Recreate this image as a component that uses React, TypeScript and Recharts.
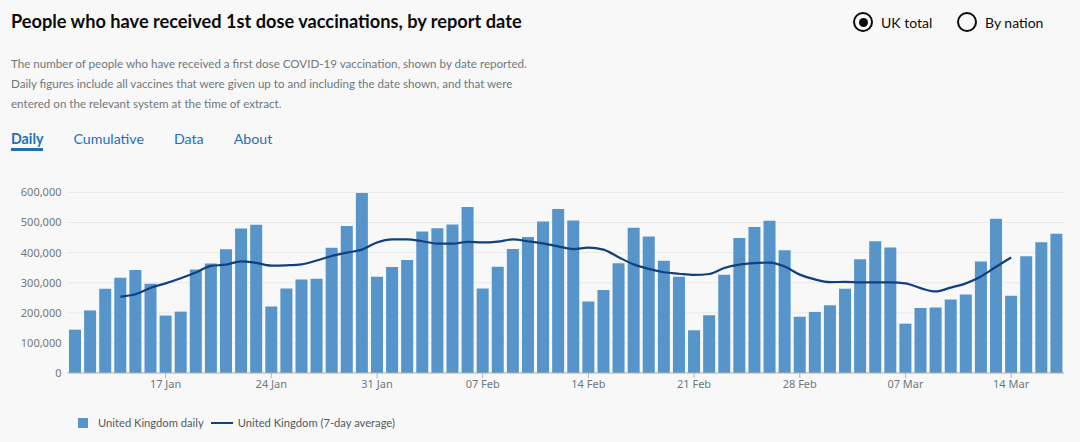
import React from "react";
import {
  ComposedChart,
  Bar,
  Line,
  XAxis,
  YAxis,
  CartesianGrid,
  ReferenceLine,
} from "recharts";

const dates = [
  "11 Jan", "12 Jan", "13 Jan", "14 Jan", "15 Jan", "16 Jan", "17 Jan", "18 Jan", "19 Jan", "20 Jan", "21 Jan",
  "22 Jan", "23 Jan", "24 Jan", "25 Jan", "26 Jan", "27 Jan", "28 Jan", "29 Jan", "30 Jan", "31 Jan",
  "01 Feb", "02 Feb", "03 Feb", "04 Feb", "05 Feb", "06 Feb", "07 Feb", "08 Feb", "09 Feb", "10 Feb",
  "11 Feb", "12 Feb", "13 Feb", "14 Feb", "15 Feb", "16 Feb", "17 Feb", "18 Feb", "19 Feb", "20 Feb",
  "21 Feb", "22 Feb", "23 Feb", "24 Feb", "25 Feb", "26 Feb", "27 Feb", "28 Feb",
  "01 Mar", "02 Mar", "03 Mar", "04 Mar", "05 Mar", "06 Mar", "07 Mar", "08 Mar", "09 Mar", "10 Mar",
  "11 Mar", "12 Mar", "13 Mar", "14 Mar", "15 Mar", "16 Mar", "17 Mar",
];

// first doses per day (thousands)
const daily = [
  144, 208, 280, 317, 342, 297, 191, 204, 344, 364, 411, 480, 493, 221, 281, 311, 313, 416, 489, 598, 320,
  352, 376, 470, 481, 494, 552, 281, 353, 412, 452, 504, 545, 507, 238, 276, 365, 483, 454, 373, 320,
  142, 192, 327, 449, 485, 506, 408, 187,
  203, 225, 280, 378, 438, 417, 164, 216, 218, 244, 261, 371, 513, 257, 388, 435, 463,
];

// 7-day average (thousands), null where not shown
const average = [
  null, null, null, 254, 262, 283, 298, 315, 334, 356, 360, 371, 366, 357, 358, 361, 374, 389, 400, 410, 434,
  444, 444, 438, 430, 430, 436, 434, 437, 444, 438, 431, 421, 412, 417, 410, 385, 361, 346, 335, 330,
  326, 329, 349, 360, 365, 367, 354, 327,
  311, 302, 303, 301, 301, 301, 298, 282, 271, 284, 298, 321, 353, 384, null, null, null,
];

const xTicks = ["17 Jan", "24 Jan", "31 Jan", "07 Feb", "14 Feb", "21 Feb", "28 Feb", "07 Mar", "14 Mar"];
const yTicks = [0, 100000, 200000, 300000, 400000, 500000, 600000];

const data = dates.map((date, i) => ({
  date,
  daily: daily[i] * 1000,
  average: average[i] == null ? null : (average[i] as number) * 1000,
}));

const BAR = "#5694ca";
const LINE = "#12407f";
const FONT = "Lato, 'Noto Sans', Arial, sans-serif";
const TICK_FONT = "'Noto Sans', Arial, sans-serif";

function Radio({ label, checked, left }: { label: string; checked: boolean; left: number }) {
  return (
    <div style={{ position: "absolute", left, top: 12, display: "flex", alignItems: "center" }}>
      <div
        style={{
          width: 16,
          height: 16,
          borderRadius: "50%",
          border: "2px solid #0b0c0c",
          display: "flex",
          alignItems: "center",
          justifyContent: "center",
        }}
      >
        {checked && <div style={{ width: 9, height: 9, borderRadius: "50%", background: "#0b0c0c" }} />}
      </div>
      <span style={{ marginLeft: 8, fontSize: 14, color: "#0b0c0c" }}>{label}</span>
    </div>
  );
}

export default function App() {
  return (
    <div
      style={{
        position: "fixed",
        left: 0,
        top: 0,
        width: 1080,
        height: 442,
        background: "#f8f8f8",
        fontFamily: FONT,
        overflow: "hidden",
      }}
    >
      <div
        style={{
          position: "absolute",
          left: 11,
          top: 10,
          fontSize: 18.2,
          fontWeight: 700,
          color: "#0b0c0c",
          whiteSpace: "nowrap",
        }}
      >
        People who have received 1st dose vaccinations, by report date
      </div>
      <Radio label="UK total" checked left={853} />
      <Radio label="By nation" checked={false} left={957} />

      <div
        style={{
          position: "absolute",
          left: 11,
          top: 54,
          fontSize: 11.6,
          lineHeight: "20px",
          color: "#6f777b",
          whiteSpace: "nowrap",
        }}
      >
        The number of people who have received a first dose COVID-19 vaccination, shown by date reported.
        <br />
        Daily figures include all vaccines that were given up to and including the date shown, and that were
        <br />
        entered on the relevant system at the time of extract.
      </div>

      <div
        style={{
          position: "absolute",
          left: 11,
          top: 130,
          fontSize: 14.2,
          color: "#1d70b8",
          display: "flex",
          whiteSpace: "nowrap",
        }}
      >
        <span style={{ fontWeight: 700, borderBottom: "3px solid #1d70b8", paddingBottom: 1 }}>Daily</span>
        <span style={{ marginLeft: 30 }}>Cumulative</span>
        <span style={{ marginLeft: 30 }}>Data</span>
        <span style={{ marginLeft: 30 }}>About</span>
      </div>

      <div style={{ position: "absolute", left: 0, top: 180 }}>
        <ComposedChart
          width={1080}
          height={230}
          data={data}
          margin={{ top: 12.5, right: 16, left: 0, bottom: 7 }}
        >
          <CartesianGrid vertical={false} stroke="#e9e9e9" />
          <XAxis
            dataKey="date"
            ticks={xTicks}
            interval={0}
            axisLine={false}
            tickLine={{ stroke: "#b1b4b6" }}
            tickSize={5}
            tick={{ fill: "#6f777b", fontSize: 11, fontFamily: TICK_FONT }}
            height={30}
          />
          <YAxis
            domain={[0, 600000]}
            ticks={yTicks}
            width={67.5}
            axisLine={false}
            tickLine={false}
            tickMargin={0}
            tick={{ fill: "#6f777b", fontSize: 11, fontFamily: TICK_FONT }}
            tickFormatter={(v: number) => v.toLocaleString("en-GB")}
          />
          <Bar dataKey="daily" fill={BAR} isAnimationActive={false} />
          <ReferenceLine y={0} stroke="#b1b4b6" />
          <Line
            dataKey="average"
            type="monotone"
            stroke={LINE}
            strokeWidth={2.2}
            dot={false}
            activeDot={false}
            connectNulls={false}
            isAnimationActive={false}
          />
        </ComposedChart>
      </div>

      <div
        style={{
          position: "absolute",
          left: 78,
          top: 416,
          display: "flex",
          alignItems: "center",
          fontSize: 11.2,
          color: "#505a5f",
          whiteSpace: "nowrap",
        }}
      >
        <div style={{ width: 10, height: 10, background: BAR }} />
        <span style={{ marginLeft: 10 }}>United Kingdom daily</span>
        <div style={{ width: 22, height: 2, background: LINE, marginLeft: 7 }} />
        <span style={{ marginLeft: 5 }}>United Kingdom (7-day average)</span>
      </div>
    </div>
  );
}
